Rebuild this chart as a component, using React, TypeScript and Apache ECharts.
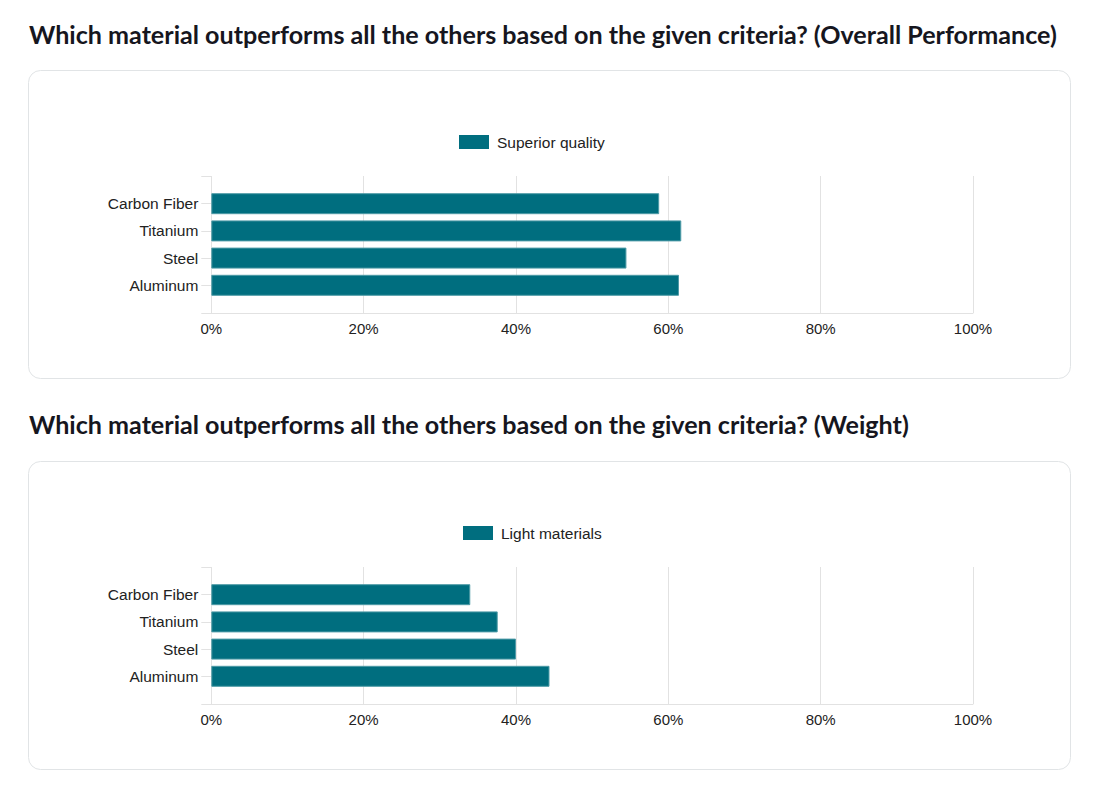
import React, { useEffect, useRef } from "react";
import * as echarts from "echarts";

const categories = ["Carbon Fiber", "Titanium", "Steel", "Aluminum"];
const titles = [
  "Which material outperforms all the others based on the given criteria? (Overall Performance)",
  "Which material outperforms all the others based on the given criteria? (Weight)",
];
const seriesNames = ["Superior quality", "Light materials"];
const overallValues = [58.8, 61.7, 54.5, 61.4];
const weightValues = [34.0, 37.6, 40.0, 44.4];
const xTicks = [0, 20, 40, 60, 80, 100];

const BAR = "#006e7f";
const GRID = "#e2e2e2";
const TEXT = "#222222";

export default function App() {
  const ref = useRef<HTMLDivElement>(null);
  useEffect(() => {
    if (!ref.current) return;
    const chart = echarts.init(ref.current, null, { renderer: "svg" });
    const panels = [
      { title: titles[0], name: seriesNames[0], values: overallValues, off: 0, legendLeft: 459 },
      { title: titles[1], name: seriesNames[1], values: weightValues, off: 391, legendLeft: 463 },
    ];
    const grids: any[] = [];
    const xAxes: any[] = [];
    const yAxes: any[] = [];
    const series: any[] = [];
    const legends: any[] = [];
    const graphics: any[] = [];
    const left = 211.3;
    const right = 1100 - 973;
    panels.forEach((p, i) => {
      const o = p.off;
      graphics.push({
        type: "rect",
        shape: { x: 28.5, y: 70.5 + o, width: 1042, height: 308, r: 12 },
        style: { fill: "#ffffff", stroke: "#e1e4e6", lineWidth: 1 },
        z: -10,
      });
      graphics.push({
        type: "text",
        x: 29,
        y: 34 + (i === 0 ? 0 : 390),
        style: {
          text: p.title,
          font: "bold 25.1px Lato",
          fill: "#16161e",
          verticalAlign: "middle",
          align: "left",
        },
      });
      grids.push({ left, right, top: 176 + o, height: 137 });
      grids.push({ left, right, top: 190.1 + o, height: 108.8 });
      const gOuter = i * 2;
      const gInner = i * 2 + 1;
      xAxes.push({
        gridIndex: gOuter,
        type: "value",
        min: 0,
        max: 100,
        interval: 20,
        axisLine: { show: true, lineStyle: { color: GRID } },
        axisTick: { show: false },
        splitLine: { show: true, lineStyle: { color: GRID } },
        axisLabel: {
          formatter: (v: number) => (xTicks.includes(v) ? v + "%" : ""),
          color: TEXT,
          fontFamily: "Liberation Sans, Arial",
          fontSize: 15,
          margin: 8,
        },
      });
      xAxes.push({
        gridIndex: gInner,
        type: "value",
        min: 0,
        max: 100,
        show: false,
      });
      yAxes.push({
        gridIndex: gOuter,
        type: "value",
        min: 0,
        max: 1,
        interval: 1,
        axisLine: { show: false },
        axisTick: { show: true, length: 10, lineStyle: { color: GRID } },
        axisLabel: { show: false },
        splitLine: { show: false },
      });
      yAxes.push({
        gridIndex: gInner,
        type: "category",
        inverse: true,
        data: categories,
        axisLine: { show: false },
        axisTick: { show: true, length: 10, alignWithLabel: true, lineStyle: { color: GRID } },
        axisLabel: {
          color: TEXT,
          fontFamily: "Liberation Sans, Arial",
          fontSize: 15.5,
          margin: 13,
          padding: [0, 0, 2, 0],
        },
        splitLine: { show: false },
      });
      series.push({
        type: "bar",
        name: p.name,
        xAxisIndex: gInner,
        yAxisIndex: gInner,
        data: p.values,
        barWidth: 21,
        itemStyle: { color: BAR, borderColor: "#4d9aa6", borderWidth: 1 },
      });
      legends.push({
        data: [p.name],
        left: p.legendLeft,
        top: 134 + o,
        icon: "rect",
        itemWidth: 30,
        itemHeight: 14,
        padding: 0,
        selectedMode: false,
        itemStyle: { borderWidth: 0 },
        textStyle: {
          color: TEXT,
          fontFamily: "Liberation Sans, Arial",
          fontSize: 15.5,
          padding: [0, 0, 2, 3],
        },
      });
    });
    chart.setOption({
      animation: false,
      backgroundColor: "#ffffff",
      grid: grids,
      xAxis: xAxes,
      yAxis: yAxes,
      series,
      legend: legends,
      graphic: graphics,
    });
    return () => chart.dispose();
  }, []);
  return (
    <div
      ref={ref}
      style={{ position: "fixed", left: 0, top: 0, width: 1100, height: 794, background: "#fff" }}
    />
  );
}
